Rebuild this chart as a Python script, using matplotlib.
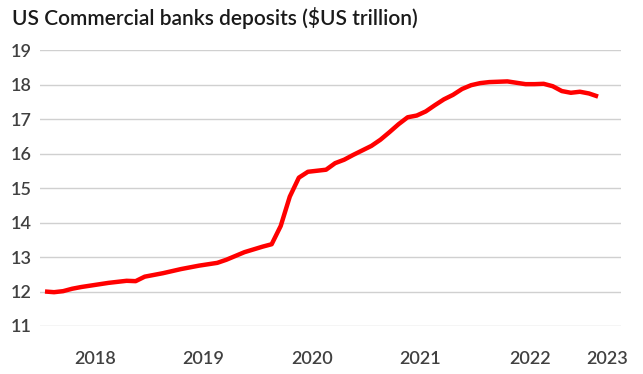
import matplotlib
matplotlib.use("Agg")
import matplotlib.pyplot as plt
import numpy as np

# Monthly data, Jan 2018 .. Feb 2023 (US$ trillion)
months = np.arange(62)  # months since Jan 2018
deposits = [12.00, 11.98, 12.01, 12.08, 12.13, 12.17, 12.21, 12.25, 12.28, 12.31,
            12.30, 12.43, 12.48, 12.53, 12.59, 12.65, 12.70, 12.75, 12.79, 12.83,
            12.92, 13.03, 13.14, 13.22, 13.30, 13.37, 13.90, 14.75, 15.30, 15.47,
            15.50, 15.53, 15.72, 15.82, 15.96, 16.09, 16.22, 16.40, 16.62, 16.85,
            17.05, 17.10, 17.22, 17.40, 17.57, 17.70, 17.87, 17.98, 18.04, 18.07,
            18.08, 18.09, 18.05, 18.01, 18.01, 18.02, 17.95, 17.81, 17.76, 17.79,
            17.74, 17.65]
year_labels = ["2018", "2019", "2020", "2021", "2022", "2023"]
year_label_pos = [5.5, 17.4, 29.45, 41.4, 53.5, 62.0]
y_ticks = [11, 12, 13, 14, 15, 16, 17, 18, 19]
title = "US Commercial banks deposits ($US trillion)"

plt.rcParams['font.family'] = ['Lato', 'DejaVu Sans']

W, H = 643, 374
fig = plt.figure(figsize=(W / 100, H / 100), dpi=100)
ax = fig.add_axes([40 / W, 1 - 326 / H, (621 - 40) / W, (326 - 50) / H])

ax.plot(months, deposits, color="#ff0000", linewidth=3.2, solid_joinstyle="round",
        solid_capstyle="butt", zorder=3)

ax.set_xlim(-0.55, 63.53)
ax.set_ylim(11, 19)
ax.set_yticks(y_ticks)
ax.set_yticklabels([str(v) for v in y_ticks])
ax.set_xticks(year_label_pos)
ax.set_xticklabels(year_labels)

ax.grid(axis="y", color="#d0d0d0", linewidth=1.0)
ax.set_axisbelow(True)
for s in ax.spines.values():
    s.set_visible(False)
ax.tick_params(axis="y", length=0, pad=6, labelsize=13, labelcolor="#404040")
ax.tick_params(axis="x", length=0, pad=18, labelsize=13, labelcolor="#404040")
for lbl in ax.get_xticklabels() + ax.get_yticklabels():
    lbl.set_fontweight("semibold")

fig.text(12 / W, 1 - 18 / H, title, fontsize=15, fontweight="semibold",
         color="#1a1a1a", ha="left", va="center")

fig.savefig("out.png", dpi=100, facecolor="white")
